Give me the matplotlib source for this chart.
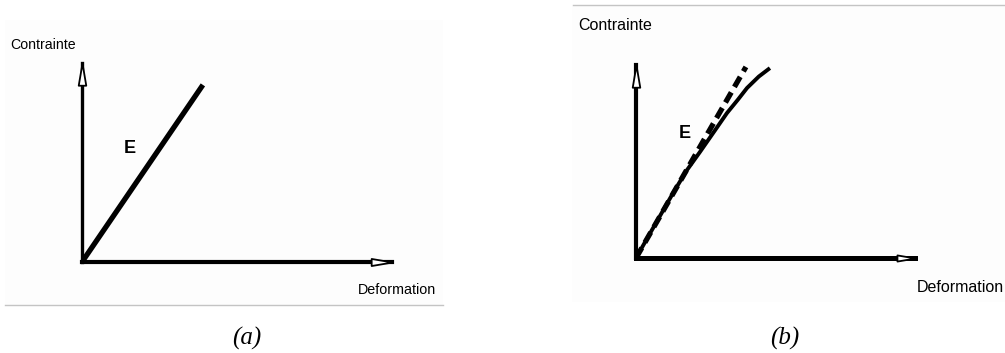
import matplotlib.pyplot as plt
import numpy as np
from matplotlib.patches import Rectangle
from matplotlib.path import Path

plt.rcParams['font.family'] = ['Liberation Sans', 'DejaVu Sans']

W, H = 1005, 353

# (a) linear elastic behaviour: stress proportional to strain (axes fractions)
strain_a = [0.0, 0.39]
stress_a = [0.0, 0.89]

# (b) real material: secant line E and the measured curve bending away
strain_b_line = [0.0, 0.394]
stress_b_line = [0.0, 0.99]
strain_b_curve = [0.0, 0.05, 0.133, 0.18, 0.229, 0.28, 0.326, 0.365, 0.398, 0.44, 0.48]
stress_b_curve = [0.0, 0.127, 0.337, 0.45, 0.549, 0.655, 0.751, 0.82, 0.881, 0.94, 0.984]

y_label = "Contrainte"
x_label = "Deformation"
modulus_label = "E"
captions = ["(a)", "(b)"]


def fx(px):
    return px / W


def fy(py):
    return 1 - py / H


# arrowhead markers with the tip at the marker origin
head_up = Path([(0, 0), (0.17, -1), (-0.17, -1), (0, 0)],
               [Path.MOVETO, Path.LINETO, Path.LINETO, Path.CLOSEPOLY])
head_right = Path([(0, 0), (-1, 0.17), (-1, -0.17), (0, 0)],
                  [Path.MOVETO, Path.LINETO, Path.LINETO, Path.CLOSEPOLY])


def stress_strain_axes(fig, rect, lw_y, lw_x, ms_y, ms_x):
    ax = fig.add_axes(rect, zorder=2)
    ax.set_xlim(0, 1)
    ax.set_ylim(0, 1)
    for side in ("top", "right"):
        ax.spines[side].set_visible(False)
    ax.spines["left"].set_linewidth(lw_y)
    ax.spines["bottom"].set_linewidth(lw_x)
    ax.spines["left"].set_capstyle("projecting")
    ax.set_xticks([])
    ax.set_yticks([])
    ax.patch.set_alpha(0)
    ax.plot(0, 1, marker=head_up, ms=ms_y, mfc="white", mec="k", mew=1.3,
            transform=ax.transAxes, clip_on=False, zorder=5)
    ax.plot(1, 0, marker=head_right, ms=ms_x, mfc="white", mec="k", mew=1.3,
            transform=ax.transAxes, clip_on=False, zorder=5)
    return ax


fig = plt.figure(figsize=(W / 100, H / 100), dpi=100)

# faint panel backgrounds and grey rules
fig.patches.append(Rectangle((fx(5), fy(305)), 438 / W, 285 / H, transform=fig.transFigure,
                             fc="#fdfdfd", ec="none", zorder=-1))
fig.patches.append(Rectangle((fx(572), fy(302)), 433 / W, 297 / H, transform=fig.transFigure,
                             fc="#fdfdfd", ec="none", zorder=-1))
fig.add_artist(plt.Line2D([fx(5), fx(443)], [fy(305), fy(305)], color="#c4c4c4", lw=1))
fig.add_artist(plt.Line2D([fx(573), fx(1005)], [fy(5), fy(5)], color="#c4c4c4", lw=1))

# panel (a)
ax_a = stress_strain_axes(fig, [fx(82), fy(262), 310 / W, 199 / H], 2.4, 3.0, 32, 30)
ax_a.plot(strain_a, stress_a, color="k", lw=3.8, solid_capstyle="butt")

# panel (b)
ax_b = stress_strain_axes(fig, [fx(636), fy(258), 279 / W, 193 / H], 3.0, 3.6, 32, 26)
ax_b.plot(strain_b_line, stress_b_line, color="k", lw=3.8, ls=(0, (2.2, 1.2)),
          dash_capstyle="butt")
ax_b.plot(strain_b_curve, stress_b_curve, color="k", lw=2.8, solid_capstyle="butt")

# labels
fig.text(fx(10), fy(45), y_label, fontsize=10.2, va="center", ha="left")
fig.text(fx(358), fy(290), x_label, fontsize=10.3, va="center", ha="left")
fig.text(fx(130), fy(148), modulus_label, fontsize=13, weight="bold", va="center", ha="center")

fig.text(fx(578), fy(25), y_label, fontsize=11.5, va="center", ha="left")
fig.text(fx(917), fy(288), x_label, fontsize=11.5, va="center", ha="left")
fig.text(fx(685), fy(133), modulus_label, fontsize=13, weight="bold", va="center", ha="center")

fig.text(fx(247), fy(338), captions[0], fontsize=18, style="italic",
         family="Liberation Serif", va="center", ha="center")
fig.text(fx(785), fy(338), captions[1], fontsize=18, style="italic",
         family="Liberation Serif", va="center", ha="center")

fig.savefig("out.png", dpi=100)
